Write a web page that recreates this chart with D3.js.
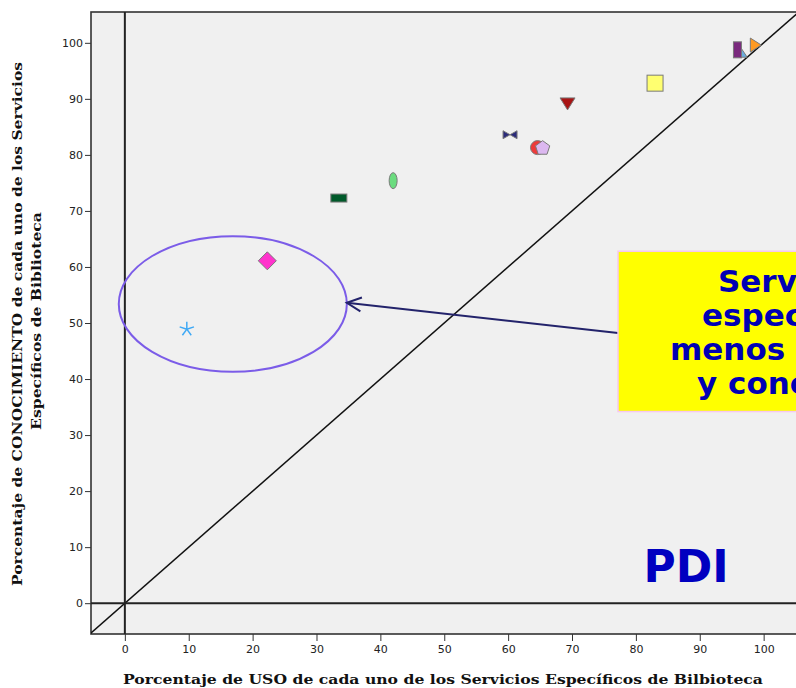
<!DOCTYPE html>
<html>
<head>
<meta charset="utf-8">
<script src="https://cdn.jsdelivr.net/npm/d3@7"></script>
<style>
  body { margin: 0; background: #fff; }
  svg { display: block; }
  .tick text { font-family: "DejaVu Sans", sans-serif; font-size: 11px; fill: #222; }
  .axis-title { font-family: "DejaVu Serif", serif; font-weight: bold; font-size: 13.5px; fill: #111; }
  .box-text { white-space: pre; }
</style>
</head>
<body>
<div id="chart"></div>
<script>
// uso (x) and conocimiento (y) per service
let usoValues = [9.7, 22.3, 33.5, 42.0, 60.3, 64.6, 65.4, 69.3, 83.0, 96.8, 95.9, 98.7];
let conocimientoValues = [48.9, 61.1, 72.3, 75.4, 83.6, 81.3, 81.2, 89.1, 92.8, 98.5, 98.75, 99.6];
let shapes = ['star', 'diamond', 'wideRect', 'ellipse', 'bowtie', 'circle', 'pentagon', 'triDown', 'square', 'triCorner', 'tallRect', 'triRight'];
let colors = ['#3fa9f5', '#ff33cc', '#005a2a', '#6bdc7f', '#2b2b7a', '#ee3a3a', '#dcb8f0', '#a81414', '#ffff70', '#6aaee0', '#7a2a7e', '#ff9a22'];
let xTicks = [0, 10, 20, 30, 40, 50, 60, 70, 80, 90, 100];
let yTicks = [0, 10, 20, 30, 40, 50, 60, 70, 80, 90, 100];
let boxLines = ['Servicios', 'específicos', 'menos  usados', 'y conocidos'];

var width = 796,
    height = 688;

var x = d3.scaleLinear().domain([-5.3, 105.3]).range([91, 797.5]);
var y = d3.scaleLinear().domain([-5.5, 105.5]).range([634, 12]);

var svg = d3.select('#chart')
    .append('svg')
    .attr('width', width)
    .attr('height', height);

svg.append('defs').append('clipPath')
    .attr('id', 'plot-clip')
    .append('rect')
    .attr('x', x.range()[0])
    .attr('y', y.range()[1])
    .attr('width', x.range()[1] - x.range()[0])
    .attr('height', y.range()[0] - y.range()[1]);

// plot background + frame
svg.append('rect')
    .attr('x', x.range()[0])
    .attr('y', y.range()[1])
    .attr('width', x.range()[1] - x.range()[0])
    .attr('height', y.range()[0] - y.range()[1])
    .attr('fill', '#f0f0f0')
    .attr('stroke', '#333')
    .attr('stroke-width', 1.6);

var plot = svg.append('g').attr('clip-path', 'url(#plot-clip)');

// diagonal y = x
plot.append('line')
    .attr('x1', x(-6)).attr('y1', y(-6))
    .attr('x2', x(106)).attr('y2', y(106))
    .attr('stroke', '#111')
    .attr('stroke-width', 1.5);

// reference lines at 0
plot.append('line')
    .attr('x1', x(0)).attr('x2', x(0))
    .attr('y1', y.range()[0]).attr('y2', y.range()[1])
    .attr('stroke', '#222').attr('stroke-width', 2);
plot.append('line')
    .attr('y1', y(0)).attr('y2', y(0))
    .attr('x1', x.range()[0]).attr('x2', x.range()[1])
    .attr('stroke', '#222').attr('stroke-width', 2);

// axes
var xAxis = svg.append('g')
    .attr('transform', 'translate(0,' + y.range()[0] + ')')
    .call(d3.axisBottom(x).tickValues(xTicks).tickSize(7).tickPadding(4).tickSizeOuter(0));
var yAxis = svg.append('g')
    .attr('transform', 'translate(' + x.range()[0] + ',0)')
    .call(d3.axisLeft(y).tickValues(yTicks).tickSize(6).tickPadding(2).tickSizeOuter(0));
[xAxis, yAxis].forEach(function(a) {
    a.select('.domain').remove();
    a.selectAll('.tick line').attr('stroke', '#333');
});

svg.append('text')
    .attr('class', 'axis-title')
    .attr('x', 123).attr('y', 684)
    .attr('textLength', 640)
    .attr('lengthAdjust', 'spacingAndGlyphs')
    .text('Porcentaje de USO de cada uno de los Servicios Específicos de Bilbioteca');

var yTitle = svg.append('g').attr('transform', 'translate(22,324) rotate(-90)');
yTitle.append('text')
    .attr('class', 'axis-title')
    .attr('text-anchor', 'middle')
    .attr('textLength', 524)
    .attr('lengthAdjust', 'spacingAndGlyphs')
    .text('Porcentaje de CONOCIMIENTO de cada uno de los Servicios');
yTitle.append('text')
    .attr('class', 'axis-title')
    .attr('text-anchor', 'middle')
    .attr('x', 3).attr('y', 19)
    .attr('textLength', 218)
    .attr('lengthAdjust', 'spacingAndGlyphs')
    .text('Específicos de Biblioteca');

// markers
function drawShape(g, shape, color) {
    var outline = '#7a7a7a';
    if (shape === 'star') {
        for (var k = 0; k < 5; k++) {
            var a = (-90 + k * 72) * Math.PI / 180;
            g.append('line')
                .attr('x1', 0).attr('y1', 0)
                .attr('x2', 7.5 * Math.cos(a)).attr('y2', 7.5 * Math.sin(a))
                .attr('stroke', color).attr('stroke-width', 1.5);
        }
        return;
    }
    var el;
    if (shape === 'diamond') {
        el = g.append('path').attr('d', 'M0,-9L9,0L0,9L-9,0Z');
    } else if (shape === 'wideRect') {
        el = g.append('rect').attr('x', -8).attr('y', -4).attr('width', 16).attr('height', 8);
    } else if (shape === 'ellipse') {
        el = g.append('ellipse').attr('rx', 4).attr('ry', 8);
    } else if (shape === 'bowtie') {
        el = g.append('path').attr('d', 'M-7,-4L0,0L-7,4Z M7,-4L0,0L7,4Z');
    } else if (shape === 'circle') {
        el = g.append('circle').attr('r', 7);
    } else if (shape === 'pentagon') {
        var pts = d3.range(5).map(function(k) {
            var a = (-90 + k * 72) * Math.PI / 180;
            return [7.5 * Math.cos(a), 7.5 * Math.sin(a)];
        });
        el = g.append('path').attr('d', 'M' + pts.join('L') + 'Z');
    } else if (shape === 'triDown') {
        el = g.append('path').attr('d', 'M-7.5,-6L7.5,-6L0,6Z');
    } else if (shape === 'square') {
        el = g.append('rect').attr('x', -8).attr('y', -8).attr('width', 16).attr('height', 16);
    } else if (shape === 'triCorner') {
        el = g.append('path').attr('d', 'M-4,-6L4,6L-4,6Z');
    } else if (shape === 'tallRect') {
        el = g.append('rect').attr('x', -4).attr('y', -8).attr('width', 8).attr('height', 16);
    } else if (shape === 'triRight') {
        el = g.append('path').attr('d', 'M-5,-7L6,0L-5,7Z');
    }
    el.attr('fill', color).attr('stroke', outline).attr('stroke-width', 1);
}

usoValues.forEach(function(u, i) {
    var g = plot.append('g')
        .attr('transform', 'translate(' + x(u) + ',' + y(conocimientoValues[i]) + ')');
    drawShape(g, shapes[i], colors[i]);
});

// annotation: ellipse around the least used services
svg.append('ellipse')
    .attr('cx', x(16.9)).attr('cy', y(53.4))
    .attr('rx', x(17.85) - x(0)).attr('ry', y(0) - y(12.1))
    .attr('fill', 'none')
    .attr('stroke', '#7b5ce8')
    .attr('stroke-width', 2);

// arrow from box to ellipse
var ax1 = x(77.2), ay1 = y(48.2), ax2 = x(34.75), ay2 = y(53.6);
var ang = Math.atan2(ay1 - ay2, ax1 - ax2);
svg.append('line')
    .attr('x1', ax1).attr('y1', ay1).attr('x2', ax2).attr('y2', ay2)
    .attr('stroke', '#23236b').attr('stroke-width', 2);
svg.append('path')
    .attr('d', 'M' + (ax2 + 16 * Math.cos(ang - 0.45)) + ',' + (ay2 + 16 * Math.sin(ang - 0.45)) +
        'L' + ax2 + ',' + ay2 +
        'L' + (ax2 + 16 * Math.cos(ang + 0.45)) + ',' + (ay2 + 16 * Math.sin(ang + 0.45)))
    .attr('fill', 'none')
    .attr('stroke', '#23236b')
    .attr('stroke-width', 2);

// yellow callout box
svg.append('rect')
    .attr('x', x(77.2)).attr('y', y(62.8))
    .attr('width', 200).attr('height', y(34.2) - y(62.8))
    .attr('fill', '#ffff00')
    .attr('stroke', '#f6c8f0')
    .attr('stroke-width', 1.5);

var lineStarts = [718, 702, 670, 697];
boxLines.forEach(function(t, i) {
    svg.append('text')
        .attr('class', 'box-text')
        .attr('x', lineStarts[i])
        .attr('y', 292 + i * 34)
        .attr('font-family', '"DejaVu Sans", Verdana, sans-serif')
        .attr('font-weight', 'bold')
        .attr('font-size', 31)
        .attr('fill', '#0000b4')
        .text(t);
});

svg.append('text')
    .attr('x', x(81.2)).attr('y', y(3.8))
    .attr('font-family', '"DejaVu Sans", Verdana, sans-serif')
    .attr('font-weight', 'bold')
    .attr('font-size', 44)
    .attr('fill', '#0000c0')
    .text('PDI');
</script>
</body>
</html>
